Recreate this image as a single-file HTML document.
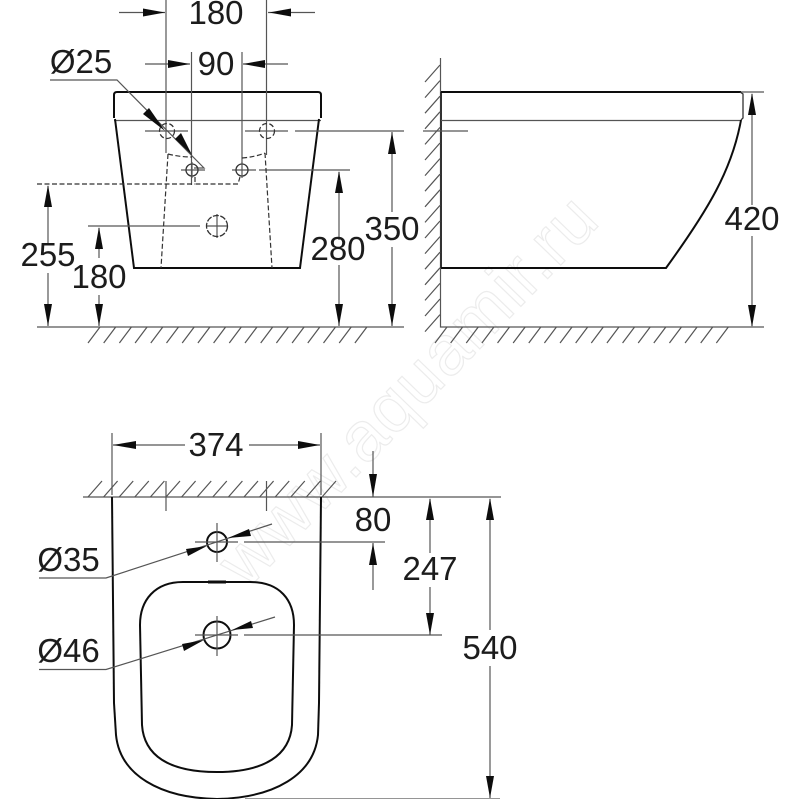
<!DOCTYPE html>
<html><head><meta charset="utf-8"><style>
html,body{margin:0;padding:0;background:#fff}
svg{display:block}
text{font-family:"Liberation Sans",sans-serif;font-size:33px;fill:#1c1c1c;text-anchor:middle}
.t{stroke:#555;stroke-width:1.2;fill:none}
.k{stroke:#111;stroke-width:2;fill:none}
.m{stroke:#333;stroke-width:1.3;fill:none}
.d{stroke:#333;stroke-width:1.2;fill:none;stroke-dasharray:5 2.5}
.a{fill:#111;stroke:none}
</style></head><body>
<svg width="800" height="800" viewBox="0 0 800 800" xmlns="http://www.w3.org/2000/svg">
<rect width="800" height="800" fill="#fff"/>
<text x="0" y="0" transform="translate(247 590) rotate(-46)" textLength="510" style="font-size:70px;fill:#fff;stroke:#ececec;stroke-width:1.2;text-anchor:start">www.aquamir.ru</text>
<g filter="url(#b)">
<defs><filter id="b" x="0" y="0" width="100%" height="100%"><feGaussianBlur stdDeviation="0.35"/></filter></defs>

<!-- front view -->
<path class="k" d="M114 118V95q0-3 3-3H318q3 0 3 3V118"/>
<path class="t" d="M114 120.500H321"/>
<path class="k" d="M115 119L134 268H300L319 119"/>
<path class="t" d="M166 0V153M266.500 0V155M191.500 52V185M242 52V165"/>
<path class="t" d="M119 12.500H165M268 12.500H315M145 64H190M243 64H288"/>
<polygon class="a" points="165,12.500 143,8.500 143,16.500"/>
<polygon class="a" points="269,12.500 291,8.500 291,16.500"/>
<polygon class="a" points="190,64 168,60 168,68"/>
<polygon class="a" points="243,64 265,60 265,68"/>
<path class="t" d="M50 80H117L204 168H194"/>
<polygon class="a" points="165,131 143,114 149,108"/>
<polygon class="a" points="192,155 175,139 181,133"/>
<path class="t" d="M145 131H188M245 131H288M295 131H404M181 170H205M232 170H256M259 170H350M88 226H200"/>
<path class="d" d="M37 184H195" stroke-dasharray="2 1"/>
<circle class="d" cx="167" cy="131" r="7.500" stroke-dasharray="3 2"/>
<circle class="d" cx="267" cy="131" r="7.500" stroke-dasharray="3 2"/>
<circle class="m" cx="192" cy="170" r="6"/>
<circle class="m" cx="242" cy="170" r="6"/>
<path class="t" d="M192 162V178M242 162V178M217 214V238M207 226H228"/>
<circle class="m" cx="217" cy="226" r="10.500" stroke-dasharray="6 1.500"/>
<path class="d" d="M168 154L161 268M265 153L272 268M168 154Q180 157 192 157M242 158Q255 157 265 153M195 177V184H238L240 177"/>
<path class="t" d="M37 327H404"/>
<path class="t" d="M88 343l12-16m3.700 16l12-16m3.700 16l12-16m3.700 16l12-16m3.700 16l12-16m3.700 16l12-16m3.700 16l12-16m3.700 16l12-16m3.700 16l12-16m3.700 16l12-16m3.700 16l12-16m3.700 16l12-16m3.700 16l12-16m3.700 16l12-16m3.700 16l12-16m3.700 16l12-16m3.700 16l12-16m3.700 16l12-16"/>
<path class="t" d="M48 186V243M48 273V326M99 228V258M99 295V326M339 172V240M339 265V326M392 132V212M392 247V326"/>
<polygon class="a" points="48,185 44,207 52,207"/>
<polygon class="a" points="48,326 44,304 52,304"/>
<polygon class="a" points="99,227 95,249 103,249"/>
<polygon class="a" points="99,326 95,304 103,304"/>
<polygon class="a" points="339,171 335,193 343,193"/>
<polygon class="a" points="339,326 335,304 343,304"/>
<polygon class="a" points="392,132 388,154 396,154"/>
<polygon class="a" points="392,326 388,304 396,304"/>
<text x="216" y="24">180</text>
<text x="216" y="75">90</text>
<text x="81" y="73">Ø25</text>
<text x="48" y="266">255</text>
<text x="99" y="288">180</text>
<text x="338" y="260">280</text>
<text x="392" y="240">350</text>

<!-- side view -->
<path class="t" d="M440.500 58V327H764"/>
<path class="m" d="M441 92V268" style="stroke-width:2"/>
<path class="t" d="M425 82l15-17m-15 32.600l15-17m-15 32.600l15-17m-15 32.600l15-17m-15 32.600l15-17m-15 32.600l15-17m-15 32.600l15-17m-15 32.600l15-17m-15 32.600l15-17m-15 32.600l15-17m-15 32.600l15-17m-15 32.600l15-17m-15 32.600l15-17m-15 32.600l15-17m-15 32.600l15-17m-15 32.600l15-17m-15 32.600l15-17"/>
<path class="t" d="M435 343l12-16m3.630 16l12-16m3.630 16l12-16m3.630 16l12-16m3.630 16l12-16m3.630 16l12-16m3.630 16l12-16m3.630 16l12-16m3.630 16l12-16m3.630 16l12-16m3.630 16l12-16m3.630 16l12-16m3.630 16l12-16m3.630 16l12-16m3.630 16l12-16m3.630 16l12-16m3.630 16l12-16m3.630 16l12-16m3.630 16l12-16"/>
<path class="k" d="M441 92H741"/>
<path class="t" d="M741 92H764M441 120.500H740M423 131H468"/>
<path class="m" d="M740 92L743 94V118L741 120"/>
<path class="k" d="M741 120C732 170 708 210 666 268H441"/>
<path class="t" d="M752 94V205M752 236V326"/>
<polygon class="a" points="752,93 748,115 756,115"/>
<polygon class="a" points="752,327 748,305 756,305"/>
<text x="752" y="230">420</text>

<!-- plan view -->
<path class="t" d="M112 433V495M321 433V495M113 445H185M249 445H320"/>
<polygon class="a" points="113,445 136,441 136,449"/>
<polygon class="a" points="320,445 298,441 298,449"/>
<text x="216" y="456">374</text>
<path class="t" d="M83 497H501M166 481V511M266.500 481V511"/>
<path class="t" d="M88 497l14-16m1.600 16l14-16m1.600 16l14-16m1.600 16l14-16m1.600 16l14-16m1.600 16l14-16m1.600 16l14-16m1.600 16l14-16m1.600 16l14-16m1.600 16l14-16m1.600 16l14-16m1.600 16l14-16m1.600 16l14-16m1.600 16l14-16m1.600 16l14-16m1.600 16l14-16"/>
<path class="k" d="M112 497L114 703L116 735C120 775 160 798 217 799C274 798 314 775 318 735L319 703L321 497"/>
<path class="k" d="M183 582H250C280 582 294 600 294 625L292 725C290 755 265 772 217 772C168 772 144 755 142 725L140 625C140 600 155 582 183 582Z"/>
<path class="k" d="M208 582H226" style="stroke-width:3"/>
<circle class="k" cx="217" cy="542" r="10"/>
<circle class="k" cx="217" cy="635" r="13.500"/>
<path class="t" d="M217 523V562M195 542H238M244 542H385M217 616V656M195 635H238M244 635H442"/>
<path class="t" d="M39 578H106L272 524M39 669.500H106L275 617"/>
<polygon class="a" points="207,546 186,549 188,556"/>
<polygon class="a" points="228,538 249,529 251,536"/>
<polygon class="a" points="204,640 182,644 184,651"/>
<polygon class="a" points="232,630 251,621 253,628"/>
<text x="68.500" y="571">Ø35</text>
<text x="68.500" y="662">Ø46</text>
<path class="t" d="M373 451V497M373 543V590M430 499V553M430 587V635M490 499V630M490 666V798M245 799H500"/>
<polygon class="a" points="373,497 369,474 377,474"/>
<polygon class="a" points="373,543 369,565 377,565"/>
<polygon class="a" points="430,498 426,520 434,520"/>
<polygon class="a" points="430,635 426,613 434,613"/>
<polygon class="a" points="490,498 486,520 494,520"/>
<polygon class="a" points="490,798 486,776 494,776"/>
<text x="373" y="531">80</text>
<text x="430" y="580">247</text>
<text x="490" y="659">540</text>
</g>
</svg>
</body></html>
